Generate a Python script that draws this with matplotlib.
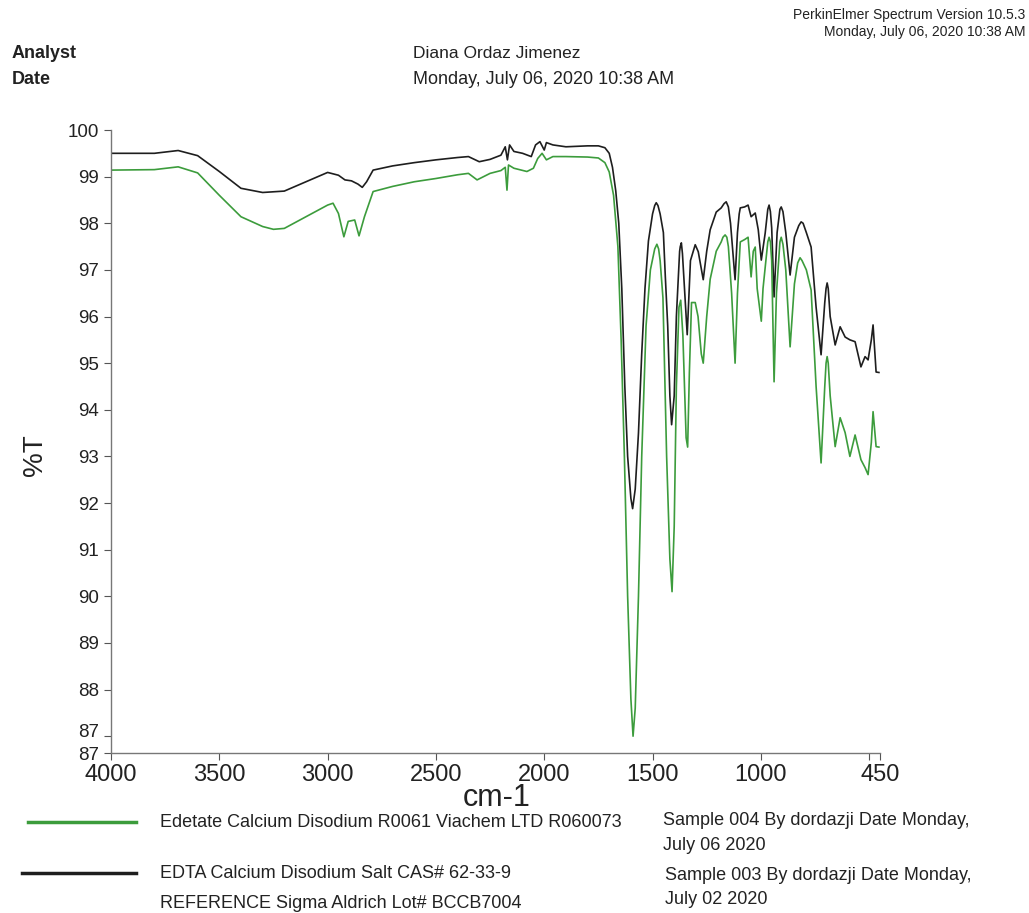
import matplotlib
matplotlib.use('Agg')
import matplotlib.pyplot as plt
import matplotlib.transforms as mtransforms
from matplotlib.lines import Line2D

plt.rcParams['font.family'] = ['Liberation Sans', 'DejaVu Sans']

# wavenumber (cm-1) / %T
wn_green = [4000, 3800, 3690, 3600, 3500, 3400, 3300, 3250, 3200, 3100, 3000, 2975, 2950,
            2925, 2905, 2875, 2855, 2830, 2790, 2700, 2600, 2500, 2400, 2350, 2310, 2250,
            2200, 2180, 2172, 2165, 2140, 2080, 2050, 2030, 2010, 1990, 1960, 1900, 1800,
            1750, 1720, 1700, 1680, 1660, 1645, 1630, 1615, 1600, 1590, 1580, 1565, 1550,
            1530, 1510, 1490, 1480, 1472, 1465, 1452, 1445, 1435, 1420, 1410, 1400, 1390, 1378, 1370,
            1360, 1345, 1338, 1330, 1320, 1303, 1290, 1275, 1266, 1250, 1234, 1206, 1183,
            1175, 1165, 1157, 1150, 1135, 1119, 1108, 1095, 1075, 1059, 1045, 1035, 1026, 1017, 998,
            990, 980, 968, 962, 956, 950, 939, 928, 912, 906, 898, 885, 865, 845, 830, 819, 810,
            790, 768, 745, 722, 705, 699,
            694, 689, 680, 657, 634, 611, 589, 565, 538, 519, 505, 490, 482, 468, 455]
t_green = [99.14, 99.15, 99.21, 99.08, 98.60, 98.14, 97.93, 97.87, 97.89, 98.14, 98.39, 98.43, 98.21,
           97.71, 98.04, 98.07, 97.73, 98.14, 98.68, 98.79, 98.89, 98.96, 99.04, 99.07, 98.93, 99.07,
           99.13, 99.20, 98.71, 99.25, 99.18, 99.11, 99.18, 99.39, 99.50, 99.36, 99.43, 99.43, 99.42,
           99.40, 99.30, 99.10, 98.60, 97.50, 95.50, 93.00, 90.00, 87.80, 87.00, 87.60, 90.00, 93.00,
           95.80, 97.00, 97.45, 97.55, 97.45, 97.20, 96.40, 95.00, 93.00, 90.80, 90.10, 91.50, 94.50, 96.20, 96.35,
           95.60, 93.40, 93.20, 94.80, 96.30, 96.30, 96.00, 95.20, 95.00, 96.00, 96.80, 97.40, 97.60,
           97.70, 97.75, 97.70, 97.50, 96.50, 95.00, 96.50, 97.60, 97.65, 97.70, 96.85, 97.40, 97.49, 96.60, 95.90,
           96.60, 97.06, 97.60, 97.70, 97.60, 97.20, 94.60, 96.50, 97.60, 97.70, 97.55, 97.00, 95.35, 96.70, 97.15, 97.26, 97.20,
           97.00, 96.57, 94.50, 92.86, 94.50, 95.00,
           95.14, 95.00, 94.30, 93.21, 93.83, 93.51, 93.00, 93.46, 92.93, 92.76, 92.61, 93.30, 93.96, 93.21, 93.20]

wn_black = [4000, 3800, 3690, 3600, 3500, 3400, 3300, 3200, 3100, 3000, 2950, 2920, 2890,
            2860, 2840, 2820, 2790, 2700, 2600, 2500, 2400, 2350, 2300, 2250, 2200, 2180,
            2170, 2160, 2140, 2100, 2060, 2040, 2020, 2000, 1990, 1960, 1900, 1800, 1750,
            1720, 1700, 1685, 1670, 1656, 1642, 1628, 1615, 1600, 1592, 1580, 1565, 1550,
            1535, 1519, 1500, 1490, 1483, 1475, 1465, 1450, 1441, 1430, 1420, 1412, 1400, 1390, 1375, 1372,
            1367, 1362, 1355, 1340, 1325, 1303, 1289, 1266, 1250, 1234, 1206, 1183, 1170, 1160, 1150, 1140,
            1119, 1108, 1100, 1095, 1075, 1059, 1045, 1026, 1012, 998, 980, 968, 962, 956, 950, 939, 925,
            912, 906, 898, 885, 865, 845, 825, 814, 805, 790, 768, 745, 722, 705, 699, 694, 689, 680,
            657, 634, 611, 589, 565, 538, 519, 505, 490, 482, 468, 455]
t_black = [99.50, 99.50, 99.56, 99.45, 99.11, 98.75, 98.66, 98.69, 98.89, 99.09, 99.03, 98.93, 98.91,
           98.84, 98.77, 98.89, 99.14, 99.23, 99.30, 99.36, 99.41, 99.43, 99.32, 99.37, 99.46, 99.64,
           99.36, 99.68, 99.54, 99.50, 99.43, 99.68, 99.75, 99.57, 99.73, 99.68, 99.64, 99.66, 99.66,
           99.62, 99.50, 99.20, 98.70, 98.00, 96.60, 94.50, 93.00, 92.10, 91.88, 92.30, 93.50, 95.20,
           96.60, 97.62, 98.20, 98.38, 98.44, 98.38, 98.20, 97.80, 96.85, 95.80, 94.30, 93.68, 94.30, 96.00, 97.40, 97.50,
           97.58, 97.35, 96.80, 95.61, 97.20, 97.54, 97.39, 96.79, 97.40, 97.86, 98.24, 98.33, 98.42, 98.46, 98.35, 98.00,
           96.79, 97.80, 98.20, 98.33, 98.35, 98.39, 98.14, 98.22, 97.86, 97.21, 97.79, 98.30, 98.39, 98.25, 97.90, 96.42, 97.80,
           98.30, 98.35, 98.25, 97.80, 96.89, 97.70, 97.95, 98.03, 98.00, 97.80, 97.49, 96.20, 95.18, 96.30, 96.60, 96.72, 96.60, 96.00,
           95.39, 95.78, 95.56, 95.50, 95.46, 94.92, 95.14, 95.07, 95.50, 95.82, 94.81, 94.80]

y_ticks = [86.64, 87, 88, 89, 90, 91, 92, 93, 94, 95, 96, 97, 98, 99, 100]
y_labels = ['87', '87', '88', '89', '90', '91', '92', '93', '94', '95', '96', '97', '98', '99', '100']
x_ticks = [4000, 3500, 3000, 2500, 2000, 1500, 1000, 500, 450]
x_labels = ['4000', '3500', '3000', '2500', '2000', '1500', '1000', '', '450']

green = '#3c9c3c'
black = '#1e1e1e'
W, H = 1029, 913

fig = plt.figure(figsize=(W / 100, H / 100), dpi=100)
ax = fig.add_axes([111 / W, 1 - 753 / H, (880 - 111) / W, (753 - 130) / H])

ax.plot(wn_black, t_black, color=black, lw=1.2)
ax.plot(wn_green, t_green, color=green, lw=1.2)

ax.set_xlim(4000, 450)
ax.set_ylim(86.64, 100)
ax.set_xticks(x_ticks)
ax.set_xticklabels(x_labels)
ax.set_yticks(y_ticks)
ax.set_yticklabels(y_labels)
ax.tick_params(colors='#555555', labelcolor='#222222', length=5, width=0.8)
ax.tick_params(axis='x', labelsize=17, pad=3)
ax.tick_params(axis='y', labelsize=13.5)
for s in ['top', 'right']:
    ax.spines[s].set_visible(False)
for s in ['left', 'bottom']:
    ax.spines[s].set_color('#777777')
    ax.spines[s].set_linewidth(1.0)

# the two "87" labels sit close together; lift the upper one a little like the original
ylabs = ax.get_yticklabels()
ylabs[1].set_transform(ylabs[1].get_transform() + mtransforms.ScaledTranslation(0, 4 / 72, fig.dpi_scale_trans))

fig.text(497 / W, 1 - 798 / H, 'cm-1', fontsize=22, ha='center', va='center', color='#222222')
fig.text(35 / W, 1 - 455 / H, '%T', fontsize=20, rotation=90, ha='center', va='center', color='#222222')

# header
def t(x, y, s, **kw):
    fig.text(x / W, 1 - y / H, s, va='center', color='#222222', **kw)

t(1025, 15, 'PerkinElmer Spectrum Version 10.5.3', fontsize=10, ha='right')
t(1025, 32, 'Monday, July 06, 2020 10:38 AM', fontsize=10, ha='right')
t(12, 53, 'Analyst', fontsize=13, fontweight='bold')
t(12, 80, 'Date', fontsize=13, fontweight='bold')
t(413, 53, 'Diana Ordaz Jimenez', fontsize=12.5)
t(413, 80, 'Monday, July 06, 2020 10:38 AM', fontsize=13)

# legend block
fig.add_artist(Line2D([28 / W, 136 / W], [1 - 822 / H, 1 - 822 / H], color=green, lw=2.5))
fig.add_artist(Line2D([22 / W, 136 / W], [1 - 873 / H, 1 - 873 / H], color=black, lw=2.5))
t(160, 822, 'Edetate Calcium Disodium R0061 Viachem LTD R060073', fontsize=13)
t(160, 873, 'EDTA Calcium Disodium Salt CAS# 62-33-9', fontsize=13)
t(160, 903, 'REFERENCE Sigma Aldrich Lot# BCCB7004', fontsize=13)
t(663, 820, 'Sample 004 By dordazji Date Monday,', fontsize=13)
t(663, 845, 'July 06 2020', fontsize=13)
t(665, 875, 'Sample 003 By dordazji Date Monday,', fontsize=13)
t(665, 899, 'July 02 2020', fontsize=13)

fig.savefig('out.png', dpi=100)
